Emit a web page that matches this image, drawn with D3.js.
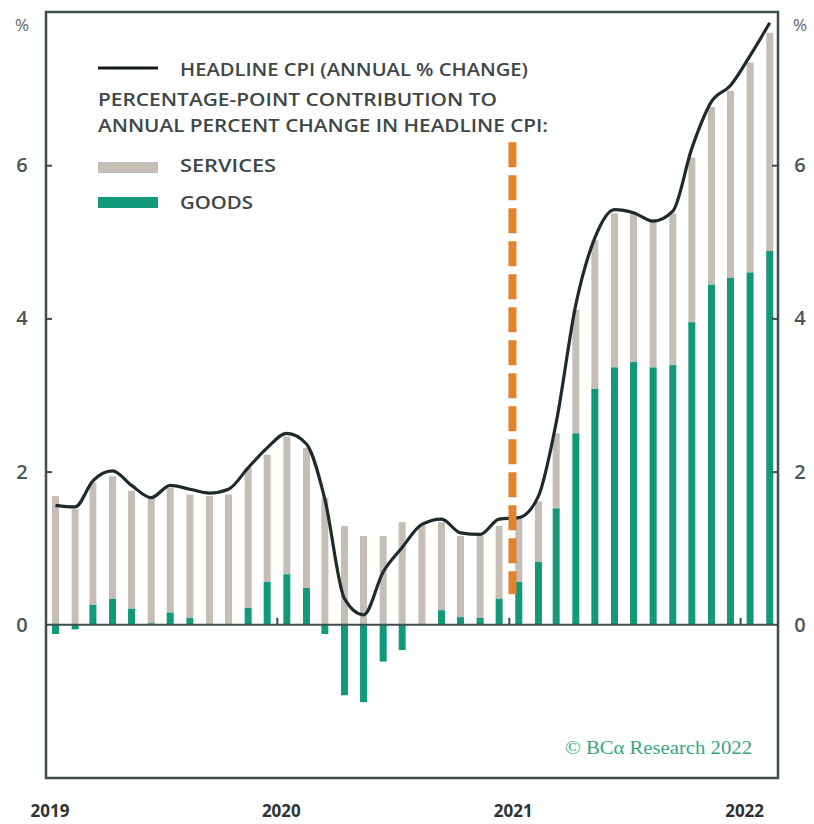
<!DOCTYPE html>
<html>
<head>
<meta charset="utf-8">
<script src="https://cdn.jsdelivr.net/npm/d3@7"></script>
<style>
  body { margin: 0; background: #fff; }
  svg { display: block; }
</style>
</head>
<body>
<div id="chart"></div>
<script>
// monthly observations, Jan 2019 .. Feb 2022
const months = d3.timeMonth.range(new Date(2019, 0, 1), new Date(2022, 2, 1));
const headline = [1.56, 1.54, 1.88, 2.01, 1.82, 1.66, 1.82, 1.77, 1.72, 1.77, 2.05, 2.31,
  2.50, 2.36, 1.64, 0.34, 0.13, 0.69, 1.01, 1.31, 1.38, 1.20, 1.18, 1.38,
  1.40, 1.68, 2.64, 4.18, 5.05, 5.42, 5.38, 5.27, 5.40, 6.22, 6.83, 7.04,
  7.43, 7.86];
const services = [1.68, 1.51, 1.60, 1.60, 1.54, 1.64, 1.63, 1.61, 1.68, 1.70, 1.83, 1.66,
  1.80, 1.83, 1.66, 1.29, 1.16, 1.16, 1.34, 1.30, 1.15, 1.06, 1.07, 0.95,
  0.84, 0.79, 0.98, 1.61, 1.94, 2.01, 1.94, 1.92, 1.98, 2.15, 2.32, 2.44,
  2.74, 2.85];
const goods = [-0.12, -0.06, 0.26, 0.34, 0.21, 0.02, 0.16, 0.09, 0.00, 0.00, 0.22, 0.56,
  0.66, 0.48, -0.12, -0.92, -1.01, -0.48, -0.33, 0.00, 0.19, 0.10, 0.09, 0.34,
  0.56, 0.82, 1.52, 2.50, 3.08, 3.36, 3.43, 3.36, 3.39, 3.95, 4.44, 4.53,
  4.60, 4.88];
const yTicks = [0, 2, 4, 6];
const yearTicks = [2019, 2020, 2021, 2022];
const markerDate = new Date(2021, 0, 6);
const markerRange = [0.4, 6.3];

const W = 814, H = 824;
const margin = {left: 46, right: 778, top: 12, bottom: 778};
const colors = {frame: '#3e4e4e', line: '#1f2b2b', services: '#c5beb6', goods: '#12997a',
  text: '#3d4747', marker: '#e0822e', credit: '#3aa585'};

const svg = d3.select('#chart').append('svg')
  .attr('width', W).attr('height', H)
  .attr('viewBox', `0,0,${W},${H}`);

const x = d3.scaleTime()
  .domain([new Date(2019, 0, 1), new Date(2022, 2, 1)])
  .range([margin.left, margin.right]);
const y = d3.scaleLinear().domain([-2, 8]).range([margin.bottom, margin.top]);

const mid = d => new Date(d.getFullYear(), d.getMonth(), 16);
const barW = 7;

const data = months.map((d, i) => ({date: d, headline: headline[i], services: services[i], goods: goods[i]}));

// bars
const bars = svg.append('g');
bars.selectAll('rect.services')
  .data(data)
  .join('rect')
  .attr('class', 'services')
  .attr('x', d => x(mid(d.date)) - barW / 2)
  .attr('width', barW)
  .attr('y', d => y(Math.max(d.goods, 0) + d.services))
  .attr('height', d => y(Math.max(d.goods, 0)) - y(Math.max(d.goods, 0) + d.services))
  .attr('fill', colors.services);

bars.selectAll('rect.goods')
  .data(data)
  .join('rect')
  .attr('class', 'goods')
  .attr('x', d => x(mid(d.date)) - barW / 2)
  .attr('width', barW)
  .attr('y', d => y(Math.max(d.goods, 0)))
  .attr('height', d => Math.abs(y(d.goods) - y(0)))
  .attr('fill', colors.goods);

// zero line + year ticks
svg.append('line')
  .attr('x1', margin.left).attr('x2', margin.right)
  .attr('y1', y(0)).attr('y2', y(0))
  .attr('stroke', colors.frame).attr('stroke-width', 2);

svg.append('g').selectAll('line')
  .data(yearTicks.slice(1))
  .join('line')
  .attr('x1', d => x(new Date(d, 0, 1))).attr('x2', d => x(new Date(d, 0, 1)))
  .attr('y1', y(0)).attr('y2', y(0) - 7)
  .attr('stroke', colors.frame).attr('stroke-width', 2);

// headline line
svg.append('path')
  .datum(data)
  .attr('fill', 'none')
  .attr('stroke', colors.line)
  .attr('stroke-width', 3.2)
  .attr('stroke-linejoin', 'round')
  .attr('d', d3.line()
    .x(d => x(mid(d.date)))
    .y(d => y(d.headline))
    .curve(d3.curveMonotoneX));

// orange marker
svg.append('line')
  .attr('x1', x(markerDate)).attr('x2', x(markerDate))
  .attr('y1', y(markerRange[1])).attr('y2', y(markerRange[0]))
  .attr('stroke', colors.marker)
  .attr('stroke-width', 8)
  .attr('stroke-dasharray', '25,8');

// frame
svg.append('rect')
  .attr('x', margin.left).attr('y', margin.top)
  .attr('width', margin.right - margin.left).attr('height', margin.bottom - margin.top)
  .attr('fill', 'none')
  .attr('stroke', colors.frame)
  .attr('stroke-width', 2.5);

// y axes (ticks point inward)
const axisL = d3.axisLeft(y).tickValues(yTicks).tickSizeInner(-6).tickSizeOuter(0);
const axisR = d3.axisRight(y).tickValues(yTicks).tickSizeInner(-6).tickSizeOuter(0);
[[axisL, margin.left, -24], [axisR, margin.right, 22]].forEach(([ax, pos, dx]) => {
  const g = svg.append('g').attr('transform', `translate(${pos},0)`).call(ax);
  g.select('.domain').remove();
  g.selectAll('.tick line').attr('stroke', colors.frame).attr('stroke-width', 2);
  g.selectAll('.tick text')
    .attr('fill', '#4b5555')
    .style('font-family', 'Open Sans, sans-serif')
    .style('font-size', '20px')
    .style('font-weight', 600)
    .attr('text-anchor', 'middle')
    .attr('x', dx);
  g.selectAll('.tick').filter(d => d === 0).select('line').remove();
});

svg.selectAll('text.pct')
  .data([22, 800])
  .join('text')
  .attr('class', 'pct')
  .attr('x', d => d).attr('y', 31)
  .attr('text-anchor', 'middle')
  .attr('fill', '#5a6464')
  .style('font-family', 'Open Sans, sans-serif')
  .style('font-size', '17px')
  .text('%');

// x year labels
svg.append('g').selectAll('text')
  .data(yearTicks)
  .join('text')
  .attr('x', d => x(new Date(d, 0, 1)) + 4)
  .attr('y', 817)
  .attr('text-anchor', 'middle')
  .attr('fill', '#2e3434')
  .style('font-family', 'Open Sans, sans-serif')
  .style('font-size', '17px')
  .style('font-weight', 700)
  .text(d => d);

// legend
const legend = svg.append('g')
  .style('font-family', 'Open Sans, sans-serif')
  .style('font-size', '18px')
  .style('font-weight', 600)
  .attr('fill', colors.text);

legend.append('line')
  .attr('x1', 98).attr('x2', 158).attr('y1', 68).attr('y2', 68)
  .attr('stroke', '#151b1b').attr('stroke-width', 3);
legend.append('rect').attr('x', 98).attr('y', 162).attr('width', 60).attr('height', 11)
  .attr('fill', colors.services);
legend.append('rect').attr('x', 98).attr('y', 197).attr('width', 60).attr('height', 11)
  .attr('fill', colors.goods);

const legendRows = [
  {text: 'HEADLINE CPI (ANNUAL % CHANGE)', x: 180, y: 76, w: 348},
  {text: 'PERCENTAGE-POINT CONTRIBUTION TO', x: 98, y: 106, w: 399},
  {text: 'ANNUAL PERCENT CHANGE IN HEADLINE CPI:', x: 98, y: 132, w: 450},
  {text: 'SERVICES', x: 180, y: 172, w: 96},
  {text: 'GOODS', x: 180, y: 209, w: 73}
];
legend.selectAll('text')
  .data(legendRows)
  .join('text')
  .attr('x', d => d.x).attr('y', d => d.y)
  .attr('textLength', d => d.w)
  .attr('lengthAdjust', 'spacingAndGlyphs')
  .text(d => d.text);

// credit
svg.append('text')
  .attr('x', 752).attr('y', 754)
  .attr('text-anchor', 'end')
  .attr('fill', colors.credit)
  .attr('textLength', 187)
  .attr('lengthAdjust', 'spacingAndGlyphs')
  .style('font-family', 'Liberation Serif, serif')
  .style('font-size', '18px')
  .text('© BCα Research 2022');
</script>
</body>
</html>
